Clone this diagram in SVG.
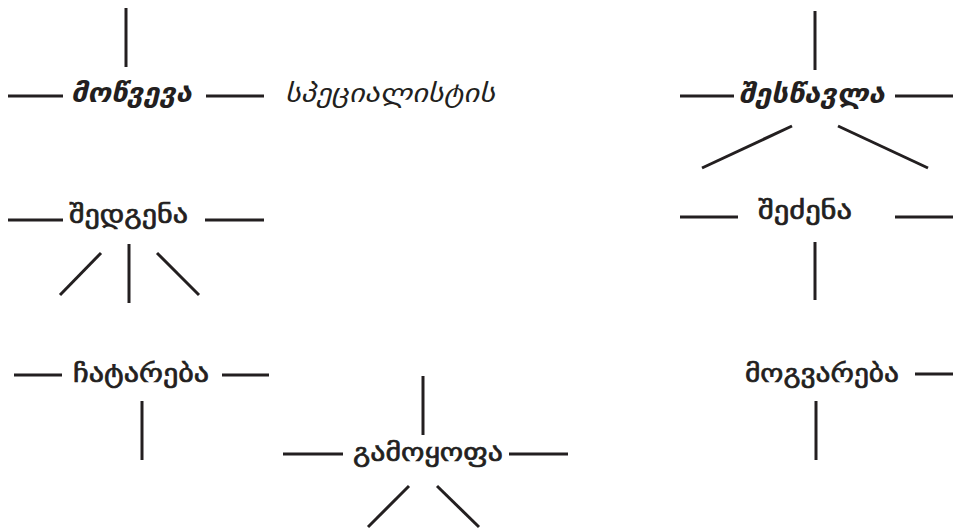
<svg xmlns="http://www.w3.org/2000/svg" width="953" height="530" viewBox="0 0 953 530">
<style>
.c line{stroke:#231f20;stroke-width:3;stroke-linecap:butt}
text{font-family:"DejaVu Sans","Noto Sans",sans-serif;fill:#231f20;font-size:26px}
.b{font-weight:normal;stroke:#231f20;stroke-width:0.7}
.bi{font-weight:bold;font-style:italic}
.i{font-style:italic;font-weight:normal}
</style>
<rect width="953" height="530" fill="#fff"/>
<g class="c" id="connectors">
<line x1="126" y1="8" x2="126" y2="67"/>
<line x1="8" y1="96" x2="63" y2="96"/>
<line x1="206" y1="96" x2="264" y2="96"/>
<line x1="815" y1="11" x2="815" y2="70"/>
<line x1="680" y1="96" x2="734" y2="96"/>
<line x1="895" y1="96" x2="953" y2="96"/>
<line x1="792" y1="126" x2="702" y2="168"/>
<line x1="838" y1="126" x2="928" y2="168"/>
<line x1="680" y1="217" x2="738" y2="217"/>
<line x1="895" y1="217" x2="953" y2="217"/>
<line x1="815" y1="242" x2="815" y2="300"/>
<line x1="8" y1="220" x2="63" y2="220"/>
<line x1="205" y1="220" x2="264" y2="220"/>
<line x1="101" y1="253" x2="60" y2="295"/>
<line x1="129" y1="244" x2="129" y2="303"/>
<line x1="157" y1="253" x2="199" y2="295"/>
<line x1="14" y1="375" x2="62" y2="375"/>
<line x1="222" y1="375" x2="269" y2="375"/>
<line x1="142" y1="401" x2="142" y2="460"/>
<line x1="423" y1="376" x2="423" y2="435"/>
<line x1="283" y1="454" x2="343" y2="454"/>
<line x1="509" y1="454" x2="568" y2="454"/>
<line x1="409" y1="486" x2="368" y2="527"/>
<line x1="437" y1="486" x2="479" y2="527"/>
<line x1="915" y1="374" x2="953" y2="374"/>
<line x1="816" y1="401" x2="816" y2="460"/>
</g>
<g id="n1"><text class="bi" x="71" y="102" textLength="121" lengthAdjust="spacingAndGlyphs">მოწვევა</text></g>
<g id="n2"><text class="i" x="285" y="102" textLength="210" lengthAdjust="spacingAndGlyphs">სპეციალისტის</text></g>
<g id="n3"><text class="bi" x="739" y="103" textLength="146" lengthAdjust="spacingAndGlyphs">შესწავლა</text></g>
<g id="n4"><text class="b" x="69" y="223" textLength="119" lengthAdjust="spacingAndGlyphs">შედგენა</text></g>
<g id="n5"><text class="b" x="758" y="219" textLength="94" lengthAdjust="spacingAndGlyphs">შეძენა</text></g>
<g id="n6"><text class="b" x="73" y="382" textLength="136" lengthAdjust="spacingAndGlyphs">ჩატარება</text></g>
<g id="n7"><text class="b" x="353" y="461" textLength="150" lengthAdjust="spacingAndGlyphs">გამოყოფა</text></g>
<g id="n8"><text class="b" x="745" y="382" textLength="154" lengthAdjust="spacingAndGlyphs">მოგვარება</text></g>
</svg>
